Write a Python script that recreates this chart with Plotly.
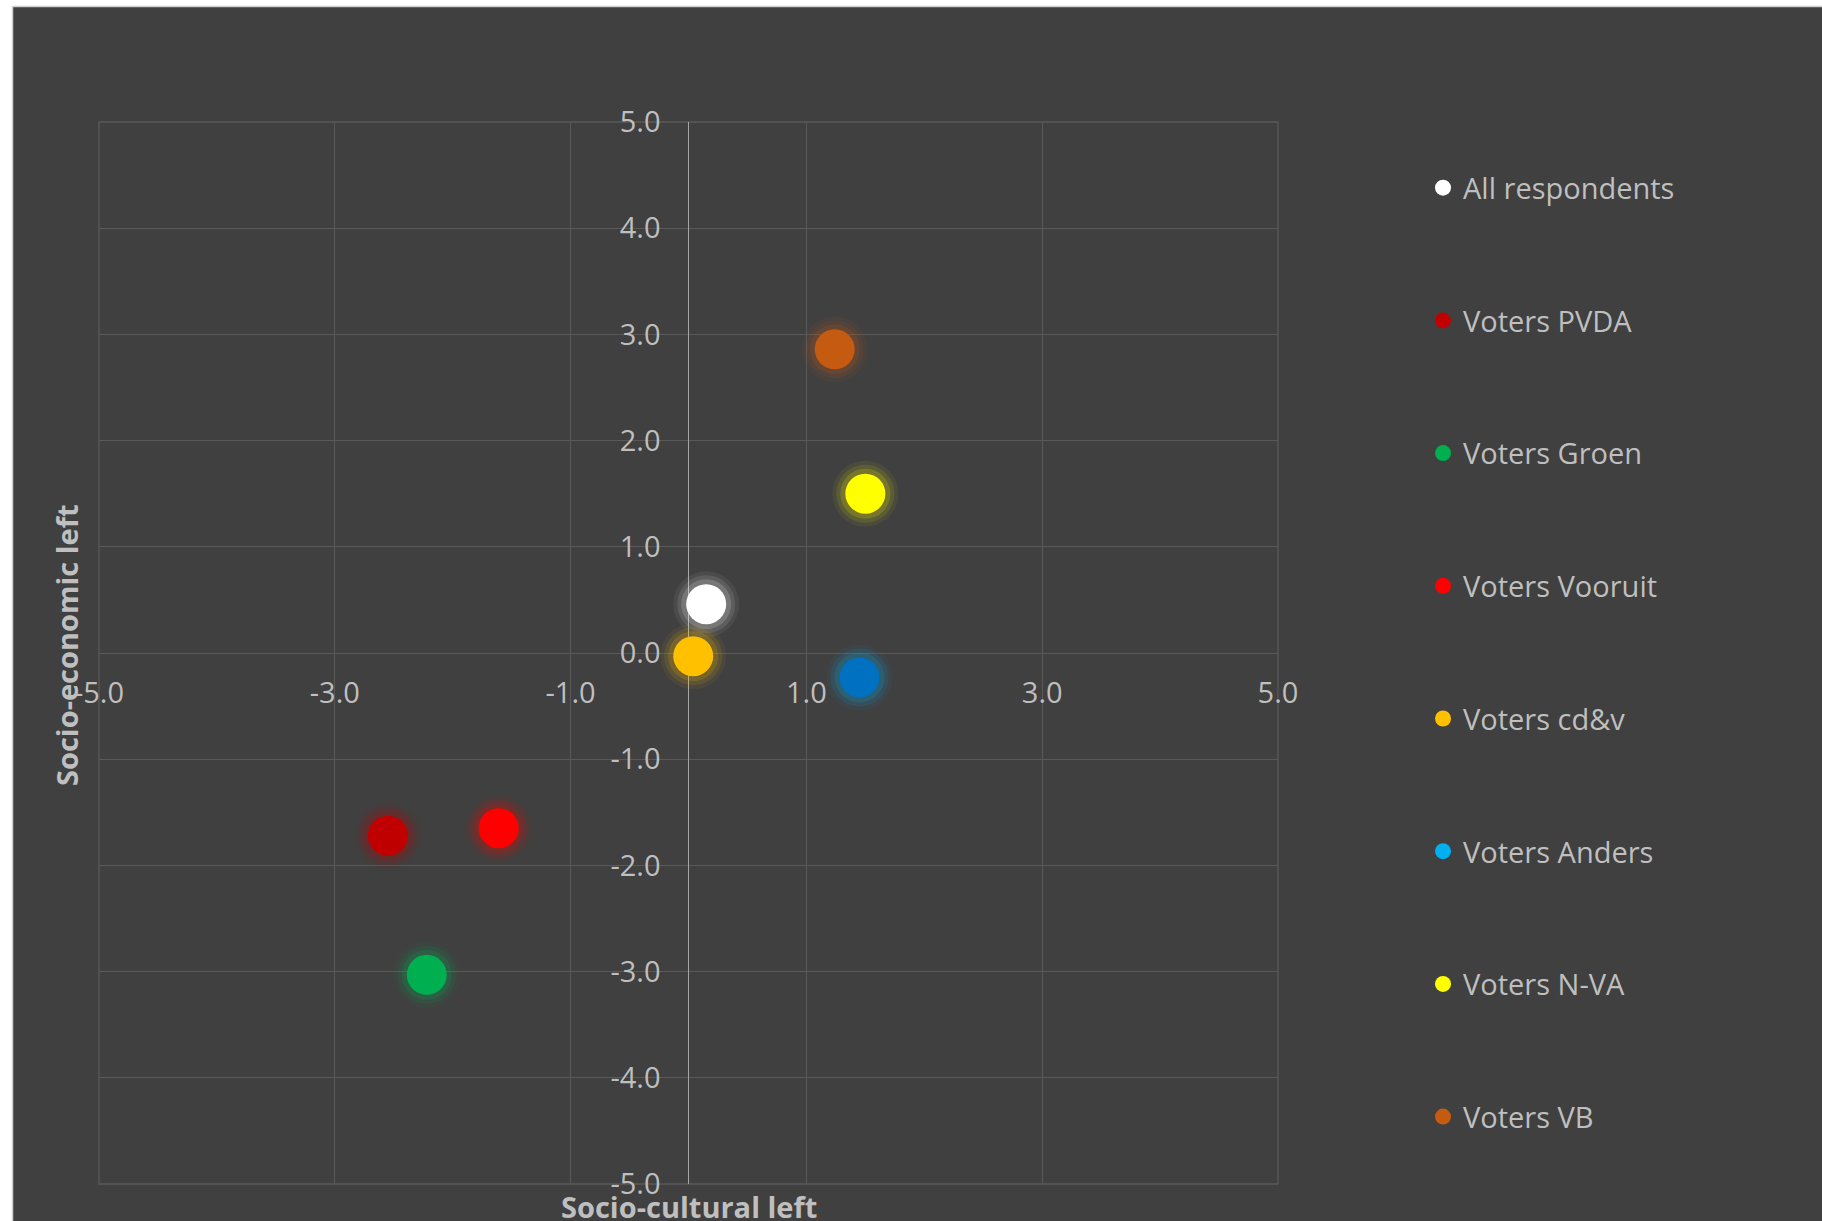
import plotly.graph_objects as go

groups = ["All respondents", "Voters PVDA", "Voters Groen", "Voters Vooruit",
          "Voters cd&v", "Voters Anders", "Voters N-VA", "Voters VB"]
socio_cultural = [0.15, -2.55, -2.22, -1.61, 0.04, 1.45, 1.50, 1.24]
socio_economic = [0.46, -1.72, -3.03, -1.65, -0.03, -0.23, 1.50, 2.86]
point_colors = ["#FFFFFF", "#C00000", "#00B050", "#FF0000", "#FFC000", "#0070C0", "#FFFF00", "#C55A11"]
glow_colors = ["#FFFFFF", "#C00000", "#00B050", "#FF0000", "#FFC000", "#00B0F0", "#FFFF00", "#C55A11"]
legend_colors = ["#FFFFFF", "#C00000", "#00B050", "#FF0000", "#FFC000", "#00B0F0", "#FFFF00", "#C55A11"]
x_ticks = [-5, -3, -1, 1, 3, 5]
x_ticklabels = ["-5.0", "-3.0", "-1.0", "1.0", "3.0", "5.0"]
y_ticks = [-5, -4, -3, -2, -1, 0, 1, 2, 3, 4, 5]
y_ticklabels = ["-5.0", "-4.0", "-3.0", "-2.0", "-1.0", "0.0", "1.0", "2.0", "3.0", "4.0", "5.0"]

BG = "#404040"
TXT = "#BFBFBF"
GRID = "#595959"
FONT = "Open Sans"
FS = 29

fig = go.Figure()

# glow layers
for size, op in [(66, 0.06), (58, 0.10), (50, 0.16)]:
    for i in range(len(groups)):
        fig.add_trace(go.Scatter(
            x=[socio_cultural[i]], y=[socio_economic[i]], mode="markers",
            marker=dict(size=size, color=glow_colors[i], opacity=op, line=dict(width=0)),
            showlegend=False, hoverinfo="skip"))

# points
for i in range(len(groups)):
    fig.add_trace(go.Scatter(
        x=[socio_cultural[i]], y=[socio_economic[i]], mode="markers",
        marker=dict(size=40, color=point_colors[i], line=dict(width=0)),
        name=groups[i], showlegend=False))

# legend entries
for i in range(len(groups)):
    fig.add_trace(go.Scatter(
        x=[None], y=[None], mode="markers",
        marker=dict(size=16, color=legend_colors[i], line=dict(width=0)),
        name=groups[i], legendgroup="g%d" % i, showlegend=True))

W, H = 1822, 1221
L, R, T, B = 99, 544, 122, 37
pw, ph = W - L - R, H - T - B

fig.update_layout(
    width=W, height=H,
    margin=dict(l=L, r=R, t=T, b=B),
    paper_bgcolor=BG, plot_bgcolor=BG,
    font=dict(family=FONT, color=TXT, size=FS),
    showlegend=True,
    legend=dict(x=1.123, xanchor="left", y=0.962, yanchor="top",
                font=dict(size=FS, color=TXT), tracegroupgap=92,
                bgcolor="rgba(0,0,0,0)", itemsizing="trace"),
    xaxis=dict(range=[-5, 5], tickvals=x_ticks, ticktext=x_ticklabels,
               showgrid=True, gridcolor=GRID, gridwidth=1.3,
               zeroline=True, zerolinecolor="#A6A6A6", zerolinewidth=1.3,
               anchor="free", position=0.5, showline=False, ticks="",
               ticklabelstandoff=20, tickfont=dict(size=FS, color=TXT)),
    yaxis=dict(range=[-5, 5], tickvals=y_ticks, ticktext=y_ticklabels,
               showgrid=True, gridcolor=GRID, gridwidth=1.3,
               zeroline=True, zerolinecolor=GRID, zerolinewidth=1.3,
               anchor="free", position=0.5, showline=False, ticks="",
               ticklabelstandoff=28, tickfont=dict(size=FS, color=TXT)),
    annotations=[
        dict(text="<b>Socio-cultural left</b>", xref="paper", yref="paper",
             x=0.5, y=-(1206 - (H - B)) / ph, xanchor="center", yanchor="middle",
             showarrow=False, font=dict(size=FS, color=TXT)),
        dict(text="<b>Socio-economic left</b>", xref="paper", yref="paper",
             x=(67 - L) / pw, y=1 - (645 - T) / ph, xanchor="center", yanchor="middle",
             textangle=-90, showarrow=False, font=dict(size=FS, color=TXT)),
    ],
    shapes=[
        dict(type="rect", xref="paper", yref="paper", layer="below",
             x0=0, x1=1, y0=0, y1=1, line=dict(width=1.3, color=GRID)),
        dict(type="rect", xref="paper", yref="paper", layer="above",
             x0=(0 - L) / pw, x1=(13 - L) / pw, y0=-B / ph - 0.01, y1=1 + T / ph + 0.01,
             fillcolor="#FFFFFF", line=dict(width=0)),
        dict(type="rect", xref="paper", yref="paper", layer="above",
             x0=(0 - L) / pw, x1=(W - L) / pw + 0.01, y0=1 + (T - 6) / ph, y1=1 + T / ph + 0.01,
             fillcolor="#FFFFFF", line=dict(width=0)),
        dict(type="line", xref="paper", yref="paper", layer="above",
             x0=(13 - L) / pw, x1=(W - L) / pw + 0.01, y0=1 + (T - 6.5) / ph, y1=1 + (T - 6.5) / ph,
             line=dict(width=1.5, color="#D0D0D0")),
        dict(type="line", xref="paper", yref="paper", layer="above",
             x0=(12.5 - L) / pw, x1=(12.5 - L) / pw, y0=-B / ph - 0.01, y1=1 + (T - 6) / ph,
             line=dict(width=1.5, color="#D0D0D0")),
    ],
)

fig.write_html("out.html", config={"displayModeBar": False},
               post_script="document.body.style.margin='0';document.body.style.overflow='hidden';")
